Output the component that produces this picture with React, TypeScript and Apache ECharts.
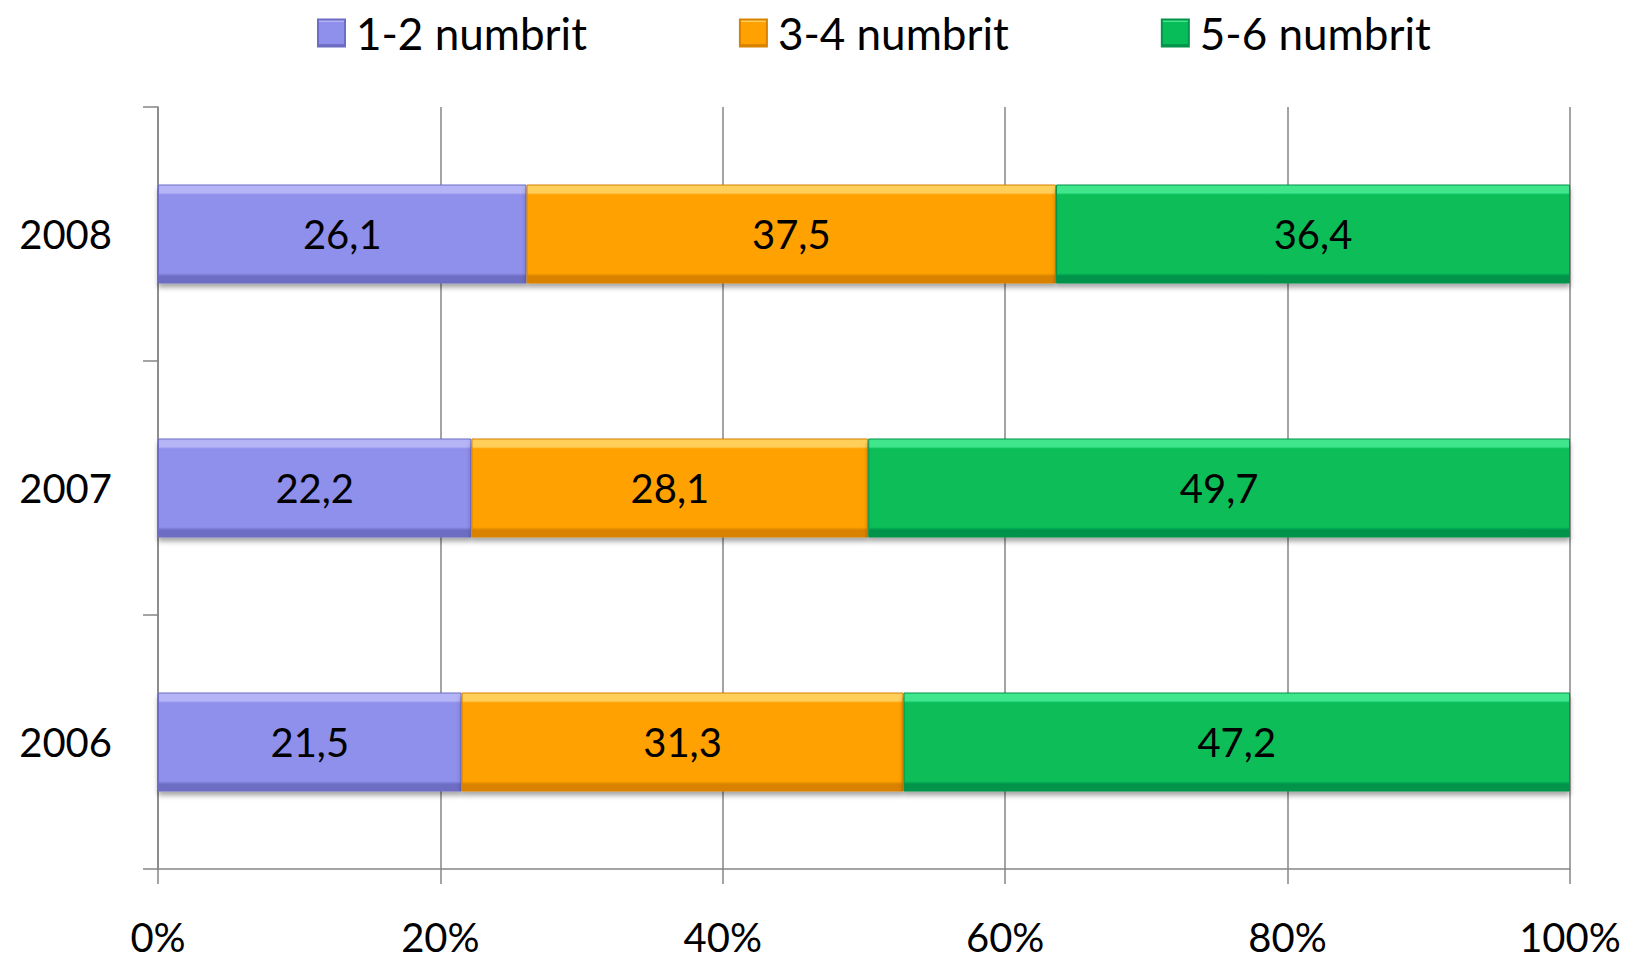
import React, { useEffect, useRef } from "react";
import * as echarts from "echarts";

const categories = ["2006", "2007", "2008"];
const seriesNames = ["1-2 numbrit", "3-4 numbrit", "5-6 numbrit"];
const values12 = [21.5, 22.2, 26.1];
const values34 = [31.3, 28.1, 37.5];
const values56 = [47.2, 49.7, 36.4];
const xTicks = [0, 20, 40, 60, 80, 100];

const baseColors = ["#8f8fec", "#ffa100", "#07bd59"];
const lightColors = ["#b4b4f6", "#ffcf5a", "#3fe68b"];
const darkColors = ["#6d6dc4", "#d98200", "#05934a"];

const FONT = "Lato, 'Open Sans', sans-serif";

function grad(i: number) {
  return new echarts.graphic.LinearGradient(0, 0, 0, 1, [
    { offset: 0, color: lightColors[i] },
    { offset: 0.08, color: lightColors[i] },
    { offset: 0.1, color: baseColors[i] },
    { offset: 0.9, color: baseColors[i] },
    { offset: 0.93, color: darkColors[i] },
    { offset: 1, color: darkColors[i] },
  ]);
}

export default function App() {
  const ref = useRef<HTMLDivElement>(null);
  useEffect(() => {
    if (!ref.current) return;
    const chart = echarts.init(ref.current, undefined, { renderer: "svg" });
    const data = [values12, values34, values56];
    chart.setOption({
      animation: false,
      backgroundColor: "#ffffff",
      legend: {
        top: 6,
        left: 312,
        itemWidth: 27,
        itemHeight: 27,
        itemGap: 152,
        icon: "rect",
        data: seriesNames,
        textStyle: {
          fontFamily: FONT,
          fontSize: 44,
          color: "#000",
          padding: [0, 0, 0, 6],
        },
      },
      grid: { left: 158, right: 60, top: 107, bottom: 97, containLabel: false },
      xAxis: {
        type: "value",
        min: xTicks[0],
        max: xTicks[xTicks.length - 1],
        interval: 20,
        axisLine: { show: true, lineStyle: { color: "#868686", width: 1.5 } },
        axisTick: { show: true, inside: false, length: 15, lineStyle: { color: "#868686", width: 1.5 } },
        splitLine: { show: true, lineStyle: { color: "#868686", width: 1.5 } },
        axisLabel: {
          formatter: "{value}%",
          fontFamily: FONT,
          fontSize: 40,
          lineHeight: 40,
          color: "#000",
          margin: 48,
        },
      },
      yAxis: {
        type: "category",
        data: categories,
        axisLine: { show: true, lineStyle: { color: "#868686", width: 1.5 } },
        axisTick: { show: true, inside: false, length: 15, alignWithLabel: false, lineStyle: { color: "#868686", width: 1.5 } },
        axisLabel: {
          fontFamily: FONT,
          fontSize: 40,
          color: "#000",
          margin: 46,
        },
      },
      series: data.map((vals, i) => ({
        name: seriesNames[i],
        type: "bar",
        stack: "total",
        barWidth: 99,
        data: vals,
        itemStyle: {
          color: grad(i),
          borderColor: darkColors[i],
          borderWidth: 1,
          shadowColor: "rgba(0,0,0,0.35)",
          shadowBlur: 5,
          shadowOffsetY: 4,
        },
        label: {
          show: true,
          position: "inside",
          fontFamily: FONT,
          fontSize: 40,
          color: "#000",
          formatter: (p: any) => String(p.value).replace(".", ","),
        },
      })),
    });
    return () => chart.dispose();
  }, []);
  return (
    <div
      ref={ref}
      style={{ position: "fixed", left: 0, top: 0, width: 1630, height: 966 }}
    />
  );
}
